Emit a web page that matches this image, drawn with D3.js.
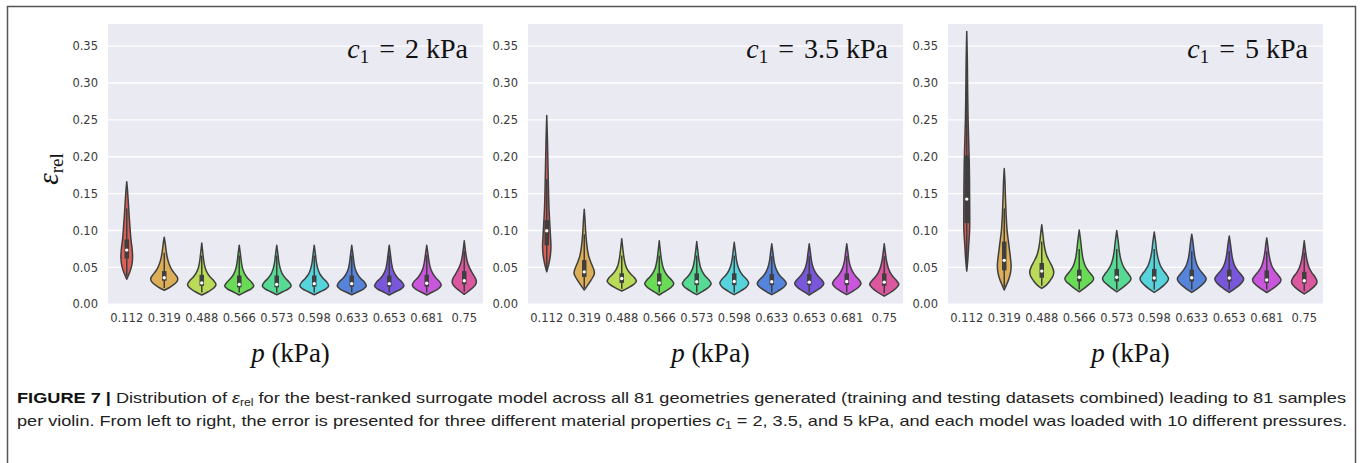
<!DOCTYPE html>
<html>
<head>
<meta charset="utf-8">
<script src="https://cdn.jsdelivr.net/npm/d3@7"></script>
<style>
  html, body { margin: 0; padding: 0; background: #ffffff; }
  svg { display: block; }
</style>
</head>
<body>
<svg id="chart" width="1360" height="463"></svg>
<script>
// ---------------- DATA ----------------
const pressures = ["0.112", "0.319", "0.488", "0.566", "0.573", "0.598", "0.633", "0.653", "0.681", "0.75"];
const c1Values = ["2", "3.5", "5"];
const yTicks = [0.00, 0.05, 0.10, 0.15, 0.20, 0.25, 0.30, 0.35];
const yMax = 0.38;

// Violin outlines: [error value, relative density]
const p1Profiles = [
  [[0.034,0],[0.042,0.17],[0.052,0.33],[0.063,0.39],[0.075,0.36],[0.088,0.28],[0.103,0.22],[0.12,0.16],[0.14,0.1],[0.155,0.05],[0.166,0]],
  [[0.019,0],[0.024,0.45],[0.030,0.82],[0.035,0.9],[0.041,0.72],[0.047,0.5],[0.054,0.34],[0.062,0.22],[0.072,0.13],[0.082,0.07],[0.091,0]],
  [[0.0126,0],[0.017,0.42],[0.022,0.8],[0.027,0.95],[0.032,0.8],[0.037,0.56],[0.043,0.36],[0.050,0.22],[0.058,0.14],[0.068,0.08],[0.083,0]],
  [[0.0126,0],[0.017,0.42],[0.021,0.8],[0.025,0.97],[0.030,0.82],[0.035,0.58],[0.041,0.37],[0.048,0.23],[0.056,0.15],[0.066,0.09],[0.080,0]],
  [[0.013,0],[0.017,0.4],[0.021,0.78],[0.025,0.96],[0.030,0.83],[0.035,0.6],[0.041,0.38],[0.048,0.24],[0.056,0.15],[0.066,0.09],[0.080,0]],
  [[0.013,0],[0.017,0.4],[0.021,0.78],[0.025,0.96],[0.030,0.84],[0.035,0.6],[0.041,0.38],[0.048,0.24],[0.056,0.15],[0.066,0.09],[0.080,0]],
  [[0.013,0],[0.017,0.42],[0.021,0.8],[0.025,0.97],[0.030,0.85],[0.035,0.6],[0.041,0.38],[0.048,0.23],[0.056,0.15],[0.066,0.09],[0.080,0]],
  [[0.0126,0],[0.017,0.42],[0.021,0.8],[0.025,0.98],[0.030,0.85],[0.035,0.6],[0.041,0.38],[0.048,0.23],[0.056,0.15],[0.066,0.09],[0.080,0]],
  [[0.0126,0],[0.017,0.42],[0.021,0.78],[0.026,0.96],[0.031,0.84],[0.036,0.6],[0.042,0.4],[0.049,0.25],[0.057,0.16],[0.067,0.09],[0.080,0]],
  [[0.0135,0],[0.018,0.3],[0.023,0.6],[0.028,0.78],[0.032,0.8],[0.037,0.7],[0.043,0.52],[0.050,0.34],[0.058,0.2],[0.068,0.11],[0.086,0]]
];
const p1Median = [0.0735, 0.036, 0.029, 0.027, 0.027, 0.028, 0.028, 0.028, 0.0285, 0.032];
const p1Q1 = [0.062, 0.032, 0.025, 0.023, 0.023, 0.024, 0.024, 0.024, 0.024, 0.027];
const p1Q3 = [0.088, 0.045, 0.040, 0.039, 0.039, 0.039, 0.039, 0.039, 0.040, 0.045];
const p1WhiskerLo = [0.038, 0.022, 0.016, 0.016, 0.016, 0.016, 0.016, 0.016, 0.016, 0.017];
const p1WhiskerHi = [0.13, 0.07, 0.066, 0.066, 0.066, 0.066, 0.066, 0.066, 0.067, 0.072];

const p2Profiles = [
  [[0.044,0],[0.055,0.14],[0.066,0.24],[0.078,0.28],[0.092,0.25],[0.11,0.2],[0.13,0.15],[0.16,0.11],[0.19,0.08],[0.22,0.05],[0.256,0]],
  [[0.0194,0],[0.025,0.2],[0.031,0.4],[0.037,0.58],[0.042,0.68],[0.048,0.62],[0.055,0.48],[0.063,0.33],[0.072,0.23],[0.085,0.15],[0.1,0.09],[0.115,0.05],[0.1287,0]],
  [[0.018,0],[0.022,0.4],[0.027,0.8],[0.031,0.97],[0.036,0.85],[0.041,0.6],[0.047,0.38],[0.054,0.24],[0.063,0.15],[0.074,0.08],[0.089,0]],
  [[0.0126,0],[0.018,0.42],[0.023,0.8],[0.028,0.97],[0.033,0.82],[0.038,0.58],[0.044,0.38],[0.051,0.24],[0.06,0.15],[0.071,0.08],[0.086,0]],
  [[0.013,0],[0.018,0.42],[0.023,0.8],[0.028,0.96],[0.033,0.82],[0.038,0.58],[0.044,0.38],[0.051,0.24],[0.06,0.15],[0.071,0.08],[0.085,0]],
  [[0.013,0],[0.018,0.42],[0.023,0.8],[0.029,0.96],[0.034,0.82],[0.039,0.58],[0.045,0.38],[0.052,0.24],[0.06,0.15],[0.071,0.08],[0.084,0]],
  [[0.013,0],[0.018,0.42],[0.023,0.8],[0.028,0.97],[0.033,0.83],[0.038,0.58],[0.044,0.38],[0.051,0.24],[0.059,0.15],[0.07,0.08],[0.082,0]],
  [[0.0126,0],[0.018,0.42],[0.023,0.8],[0.028,0.97],[0.033,0.84],[0.038,0.6],[0.044,0.39],[0.051,0.24],[0.059,0.15],[0.07,0.08],[0.082,0]],
  [[0.013,0],[0.018,0.42],[0.023,0.78],[0.028,0.95],[0.033,0.83],[0.038,0.6],[0.044,0.4],[0.051,0.25],[0.059,0.15],[0.07,0.08],[0.082,0]],
  [[0.011,0],[0.016,0.42],[0.022,0.8],[0.027,0.97],[0.032,0.82],[0.037,0.6],[0.043,0.4],[0.050,0.26],[0.058,0.16],[0.069,0.08],[0.082,0]]
];
const p2Median = [0.0997, 0.044, 0.035, 0.029, 0.0306, 0.031, 0.0306, 0.030, 0.031, 0.030];
const p2Q1 = [0.080, 0.037, 0.029, 0.025, 0.026, 0.026, 0.026, 0.026, 0.026, 0.025];
const p2Q3 = [0.114, 0.060, 0.042, 0.042, 0.042, 0.042, 0.041, 0.041, 0.042, 0.042];
const p2WhiskerLo = [0.046, 0.022, 0.021, 0.016, 0.016, 0.016, 0.016, 0.016, 0.016, 0.015];
const p2WhiskerHi = [0.17, 0.095, 0.066, 0.066, 0.066, 0.066, 0.065, 0.065, 0.065, 0.065];

const p3Profiles = [
  [[0.045,0],[0.06,0.07],[0.08,0.13],[0.1,0.19],[0.12,0.2],[0.15,0.19],[0.19,0.17],[0.22,0.13],[0.25,0.09],[0.29,0.06],[0.33,0.04],[0.37,0]],
  [[0.0194,0],[0.026,0.14],[0.034,0.3],[0.043,0.42],[0.052,0.46],[0.062,0.42],[0.072,0.36],[0.085,0.28],[0.1,0.19],[0.12,0.13],[0.145,0.08],[0.165,0.05],[0.184,0]],
  [[0.0216,0],[0.026,0.3],[0.032,0.55],[0.038,0.74],[0.044,0.8],[0.051,0.7],[0.058,0.52],[0.066,0.33],[0.075,0.21],[0.085,0.13],[0.096,0.07],[0.108,0]],
  [[0.017,0],[0.022,0.35],[0.027,0.65],[0.031,0.88],[0.035,0.96],[0.040,0.82],[0.046,0.58],[0.053,0.38],[0.062,0.25],[0.072,0.17],[0.085,0.1],[0.1006,0]],
  [[0.017,0],[0.022,0.35],[0.027,0.65],[0.031,0.87],[0.035,0.95],[0.040,0.82],[0.046,0.6],[0.053,0.4],[0.062,0.26],[0.072,0.17],[0.085,0.1],[0.100,0]],
  [[0.016,0],[0.021,0.35],[0.026,0.65],[0.031,0.88],[0.035,0.95],[0.040,0.82],[0.046,0.6],[0.053,0.4],[0.062,0.26],[0.072,0.16],[0.085,0.09],[0.098,0]],
  [[0.016,0],[0.021,0.36],[0.026,0.67],[0.031,0.9],[0.035,0.96],[0.040,0.8],[0.046,0.56],[0.053,0.36],[0.062,0.23],[0.072,0.15],[0.083,0.09],[0.095,0]],
  [[0.016,0],[0.021,0.36],[0.026,0.68],[0.031,0.9],[0.035,0.96],[0.040,0.8],[0.046,0.55],[0.053,0.35],[0.062,0.22],[0.072,0.14],[0.082,0.08],[0.0925,0]],
  [[0.016,0],[0.021,0.38],[0.026,0.7],[0.030,0.9],[0.034,0.94],[0.039,0.78],[0.045,0.54],[0.052,0.34],[0.060,0.22],[0.070,0.13],[0.080,0.07],[0.090,0]],
  [[0.014,0],[0.019,0.36],[0.024,0.66],[0.028,0.82],[0.032,0.84],[0.037,0.72],[0.043,0.5],[0.050,0.32],[0.058,0.2],[0.067,0.12],[0.076,0.06],[0.086,0]]
];
const p3Median = [0.1426, 0.0596, 0.045, 0.0366, 0.0366, 0.0357, 0.036, 0.0357, 0.033, 0.032];
const p3Q1 = [0.110, 0.046, 0.036, 0.031, 0.031, 0.031, 0.031, 0.031, 0.029, 0.028];
const p3Q3 = [0.202, 0.085, 0.056, 0.047, 0.048, 0.048, 0.047, 0.047, 0.046, 0.044];
const p3WhiskerLo = [0.05, 0.023, 0.025, 0.02, 0.02, 0.02, 0.02, 0.02, 0.02, 0.018];
const p3WhiskerHi = [0.30, 0.13, 0.085, 0.075, 0.075, 0.075, 0.072, 0.072, 0.072, 0.07];

// seaborn "hls" palette, 10 colours
const palette = ["#db5f57", "#dbae57", "#b9db57", "#69db57", "#57db94", "#57d3db", "#5784db", "#7957db", "#c957db", "#db579e"];

// ---------------- LAYOUT ----------------
const panelLefts = [108, 528, 948];
const plotW = 375;
const plotTop = 24;
const plotBottom = 304.3;
const outline = "#3f3f3f";

const panels = [
  { c1: c1Values[0], profiles: p1Profiles, med: p1Median, q1: p1Q1, q3: p1Q3, wlo: p1WhiskerLo, whi: p1WhiskerHi },
  { c1: c1Values[1], profiles: p2Profiles, med: p2Median, q1: p2Q1, q3: p2Q3, wlo: p2WhiskerLo, whi: p2WhiskerHi },
  { c1: c1Values[2], profiles: p3Profiles, med: p3Median, q1: p3Q1, q3: p3Q3, wlo: p3WhiskerLo, whi: p3WhiskerHi }
];

const svg = d3.select("#chart");

// outer frame
svg.append("rect")
  .attr("x", 7.5).attr("y", 6.5)
  .attr("width", 1348).attr("height", 470)
  .attr("fill", "none").attr("stroke", "#555").attr("stroke-width", 1.5);

const y = d3.scaleLinear().domain([0, yMax]).range([plotBottom, plotTop]);

panels.forEach((P, pi) => {
  const left = panelLefts[pi];
  const g = svg.append("g").attr("transform", `translate(${left},0)`);
  const x = d3.scaleBand().domain(pressures).range([0, plotW]).paddingInner(0).paddingOuter(0);
  const w = d3.scaleLinear().domain([0, 1]).range([0, x.bandwidth() * 0.4]);

  // background
  g.append("rect").attr("x", 0).attr("y", plotTop)
    .attr("width", plotW).attr("height", plotBottom - plotTop)
    .attr("fill", "#eaeaf2");

  // grid
  g.selectAll("line.grid").data(yTicks).join("line")
    .attr("class", "grid")
    .attr("x1", 0).attr("x2", plotW)
    .attr("y1", d => y(d)).attr("y2", d => y(d))
    .attr("stroke", "#ffffff").attr("stroke-width", 1.4);

  // y axis labels
  const yAxis = d3.axisLeft(y).tickValues(yTicks).tickFormat(d3.format(".2f")).tickSize(0).tickPadding(10);
  const ya = g.append("g").call(yAxis);
  ya.select(".domain").remove();
  ya.selectAll("text").attr("font-family", "DejaVu Sans, sans-serif").attr("font-size", 11.5).attr("fill", "#3a3a3a");

  // x axis labels
  const xAxis = d3.axisBottom(x).tickSize(0).tickPadding(10);
  const xa = g.append("g").attr("transform", `translate(0,${plotBottom})`).call(xAxis);
  xa.select(".domain").remove();
  xa.selectAll("text").attr("font-family", "DejaVu Sans, sans-serif").attr("font-size", 11.5).attr("fill", "#3a3a3a");

  // violins
  pressures.forEach((p, i) => {
    const cx = x(p) + x.bandwidth() / 2;
    const area = d3.area()
      .y(d => y(d[0]))
      .x0(d => cx - w(d[1]))
      .x1(d => cx + w(d[1]))
      .curve(d3.curveCatmullRom.alpha(0.5));
    g.append("path")
      .attr("d", area(P.profiles[i]))
      .attr("fill", palette[i])
      .attr("stroke", outline)
      .attr("stroke-width", 1.5)
      .attr("stroke-linejoin", "round");
    // whisker
    g.append("line")
      .attr("x1", cx).attr("x2", cx)
      .attr("y1", y(P.wlo[i])).attr("y2", y(P.whi[i]))
      .attr("stroke", outline).attr("stroke-width", 1.5);
    // box
    g.append("line")
      .attr("x1", cx).attr("x2", cx)
      .attr("y1", y(P.q1[i])).attr("y2", y(P.q3[i]))
      .attr("stroke", outline).attr("stroke-width", 4.5);
    // median
    g.append("circle")
      .attr("cx", cx).attr("cy", y(P.med[i]))
      .attr("r", 1.7).attr("fill", "#ffffff");
  });

  // in-panel title  c1 = X kPa
  const t = g.append("text")
    .attr("x", plotW - 15).attr("y", 58)
    .attr("text-anchor", "end")
    .attr("font-family", "Liberation Serif, serif")
    .attr("font-size", 28)
    .attr("fill", "#111");
  t.append("tspan").attr("font-style", "italic").text("c");
  t.append("tspan").attr("font-size", 19).attr("dy", 5).text("1");
  t.append("tspan").attr("dy", -5).attr("dx", 10).text("=");
  t.append("tspan").attr("dx", 10).text(P.c1 + " kPa");

  // x label
  const xl = g.append("text")
    .attr("x", plotW / 2 - 5).attr("y", 362)
    .attr("text-anchor", "middle")
    .attr("font-family", "Liberation Serif, serif")
    .attr("font-size", 27)
    .attr("fill", "#111");
  xl.append("tspan").attr("font-style", "italic").text("p");
  xl.append("tspan").text(" (kPa)");
});

// y label (first panel only)
const yl = svg.append("text")
  .attr("transform", "translate(58,169) rotate(-90)")
  .attr("text-anchor", "middle")
  .attr("font-family", "Liberation Serif, serif")
  .attr("font-size", 29)
  .attr("fill", "#111");
yl.append("tspan").attr("font-style", "italic").text("\u03B5");
yl.append("tspan").attr("font-size", 19).attr("dy", 5).text("rel");

// caption
const cap1 = svg.append("text")
  .attr("x", 17).attr("y", 403)
  .attr("font-family", "Liberation Sans, Arial, sans-serif")
  .attr("font-size", 15).attr("fill", "#222")
  .attr("textLength", 1329).attr("lengthAdjust", "spacingAndGlyphs");
cap1.append("tspan").attr("font-weight", "bold").attr("fill", "#111").text("FIGURE 7 | ");
cap1.append("tspan").text("Distribution of ");
cap1.append("tspan").attr("font-style", "italic").text("\u03B5");
cap1.append("tspan").attr("font-size", 10).attr("dy", 3).text("rel");
cap1.append("tspan").attr("dy", -3).text(" for the best-ranked surrogate model across all 81 geometries generated (training and testing datasets combined) leading to 81 samples");

const cap2 = svg.append("text")
  .attr("x", 17).attr("y", 426)
  .attr("font-family", "Liberation Sans, Arial, sans-serif")
  .attr("font-size", 15).attr("fill", "#222")
  .attr("textLength", 1330).attr("lengthAdjust", "spacingAndGlyphs");
cap2.append("tspan").text("per violin. From left to right, the error is presented for three different material properties ");
cap2.append("tspan").attr("font-style", "italic").text("c");
cap2.append("tspan").attr("font-size", 10).attr("dy", 3).text("1");
cap2.append("tspan").attr("dy", -3).text(" = 2, 3.5, and 5 kPa, and each model was loaded with 10 different pressures.");
</script>
</body>
</html>
